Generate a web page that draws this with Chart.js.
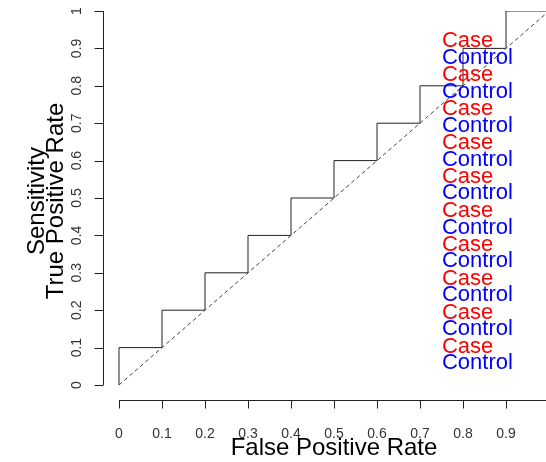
<!DOCTYPE html>
<html>
<head>
<meta charset="utf-8">
<script src="https://cdn.jsdelivr.net/npm/chart.js@4/dist/chart.umd.min.js"></script>
<style>
html,body{margin:0;padding:0;background:#fff;}
#wrap{width:546px;height:462px;}
</style>
</head>
<body>
<div id="wrap"><canvas id="c" width="546" height="462"></canvas></div>
<script>
// ROC step curve vertices
const fprSteps = [0,0,0.1,0.1,0.2,0.2,0.3,0.3,0.4,0.4,0.5,0.5,0.6,0.6,0.7,0.7,0.8,0.8,0.9,0.9,1];
const tprSteps = [0,0.1,0.1,0.2,0.2,0.3,0.3,0.4,0.4,0.5,0.5,0.6,0.6,0.7,0.7,0.8,0.8,0.9,0.9,1,1];
// chance diagonal
const diagX = [0,1];
const diagY = [0,1];
// tick values / labels
const xTickValues = [0,0.1,0.2,0.3,0.4,0.5,0.6,0.7,0.8,0.9,1];
const xTickLabels = ['0','0.1','0.2','0.3','0.4','0.5','0.6','0.7','0.8','0.9','1'];
const yTickValues = [0,0.1,0.2,0.3,0.4,0.5,0.6,0.7,0.8,0.9,1];
const yTickLabels = ['0','0.1','0.2','0.3','0.4','0.5','0.6','0.7','0.8','0.9','1'];
// text annotations (baseline positions, data units)
const annotX = 0.751;
const caseY = [0.904,0.813,0.722,0.631,0.540,0.449,0.358,0.267,0.176,0.085];
const controlY = [0.858,0.767,0.677,0.586,0.496,0.405,0.315,0.224,0.134,0.044];
const caseText = 'Case';
const controlText = 'Control';
const xTitle = 'False Positive Rate';
const yTitle1 = 'Sensitivity';
const yTitle2 = 'True Positive Rate';

const FONT = '"Liberation Sans", Arial, sans-serif';

const rocData = fprSteps.map((x,i)=>({x:x, y:tprSteps[i]}));
const diagData = diagX.map((x,i)=>({x:x, y:diagY[i]}));

const axesPlugin = {
  id:'rAxes',
  afterDraw(chart){
    const ctx = chart.ctx;
    const xs = chart.scales.x, ys = chart.scales.y;
    const ca = chart.chartArea;
    ctx.save();
    // annotations
    ctx.font = '22px ' + FONT;
    ctx.textAlign = 'left';
    ctx.textBaseline = 'alphabetic';
    const ax = xs.getPixelForValue(annotX);
    caseY.forEach(v=>{ ctx.fillStyle = '#ff0000'; ctx.fillText(caseText, ax, ys.getPixelForValue(v)); });
    controlY.forEach(v=>{ ctx.fillStyle = '#0000ff'; ctx.fillText(controlText, ax, ys.getPixelForValue(v)); });

    ctx.strokeStyle = '#222';
    ctx.lineWidth = 1;
    // y axis
    const yAxisX = Math.round(ca.left) + 0.5;
    ctx.beginPath();
    ctx.moveTo(yAxisX, ys.getPixelForValue(yTickValues[0]));
    ctx.lineTo(yAxisX, ys.getPixelForValue(yTickValues[yTickValues.length-1]));
    yTickValues.forEach(v=>{
      const p = Math.round(ys.getPixelForValue(v)) + 0.5;
      ctx.moveTo(yAxisX, p);
      ctx.lineTo(yAxisX - 9, p);
    });
    ctx.stroke();
    // x axis
    const xAxisY = Math.round(ca.bottom) + 0.5;
    ctx.beginPath();
    ctx.moveTo(xs.getPixelForValue(xTickValues[0]), xAxisY);
    ctx.lineTo(xs.getPixelForValue(xTickValues[xTickValues.length-1]), xAxisY);
    xTickValues.forEach(v=>{
      const p = Math.round(xs.getPixelForValue(v)) + 0.5;
      ctx.moveTo(p, xAxisY);
      ctx.lineTo(p, xAxisY + 8);
    });
    ctx.stroke();

    // tick labels
    ctx.fillStyle = '#333';
    ctx.font = '14px ' + FONT;
    ctx.textAlign = 'center';
    ctx.textBaseline = 'alphabetic';
    xTickValues.forEach((v,i)=>{
      ctx.fillText(xTickLabels[i], xs.getPixelForValue(v), xAxisY + 37.5);
    });
    yTickValues.forEach((v,i)=>{
      ctx.save();
      ctx.translate(yAxisX - 23, ys.getPixelForValue(v));
      ctx.rotate(-Math.PI/2);
      ctx.fillText(yTickLabels[i], 0, 0);
      ctx.restore();
    });

    // axis titles
    ctx.fillStyle = '#000';
    ctx.font = '24px ' + FONT;
    ctx.textAlign = 'center';
    ctx.fillText(xTitle, xs.getPixelForValue(0.5), 455);
    const yc = (ys.getPixelForValue(0) + ys.getPixelForValue(1)) / 2 + 3;
    ctx.save();
    ctx.translate(44, yc);
    ctx.rotate(-Math.PI/2);
    ctx.fillText(yTitle1, 0, 0);
    ctx.restore();
    ctx.save();
    ctx.translate(63, yc);
    ctx.rotate(-Math.PI/2);
    ctx.fillText(yTitle2, 0, 0);
    ctx.restore();
    ctx.restore();
  }
};

const bgPlugin = {
  id:'bg',
  beforeDraw(chart){
    const ctx = chart.ctx;
    ctx.save();
    ctx.fillStyle = '#fff';
    ctx.fillRect(0,0,chart.width,chart.height);
    ctx.restore();
  }
};

new Chart(document.getElementById('c'), {
  type:'scatter',
  data:{
    datasets:[
      {data:diagData, showLine:true, borderColor:'#444', borderWidth:1, borderDash:[4,3], pointRadius:0, tension:0},
      {data:rocData, showLine:true, borderColor:'#222', borderWidth:1, pointRadius:0, tension:0}
    ]
  },
  options:{
    responsive:false,
    animation:false,
    devicePixelRatio:1,
    layout:{padding:{left:103, top:11, right:0, bottom:62}},
    scales:{
      x:{type:'linear', min:-0.0372, max:0.993, display:false},
      y:{type:'linear', min:-0.0401, max:1, display:false}
    },
    plugins:{legend:{display:false}, tooltip:{enabled:false}}
  },
  plugins:[bgPlugin, axesPlugin]
});
</script>
</body>
</html>
